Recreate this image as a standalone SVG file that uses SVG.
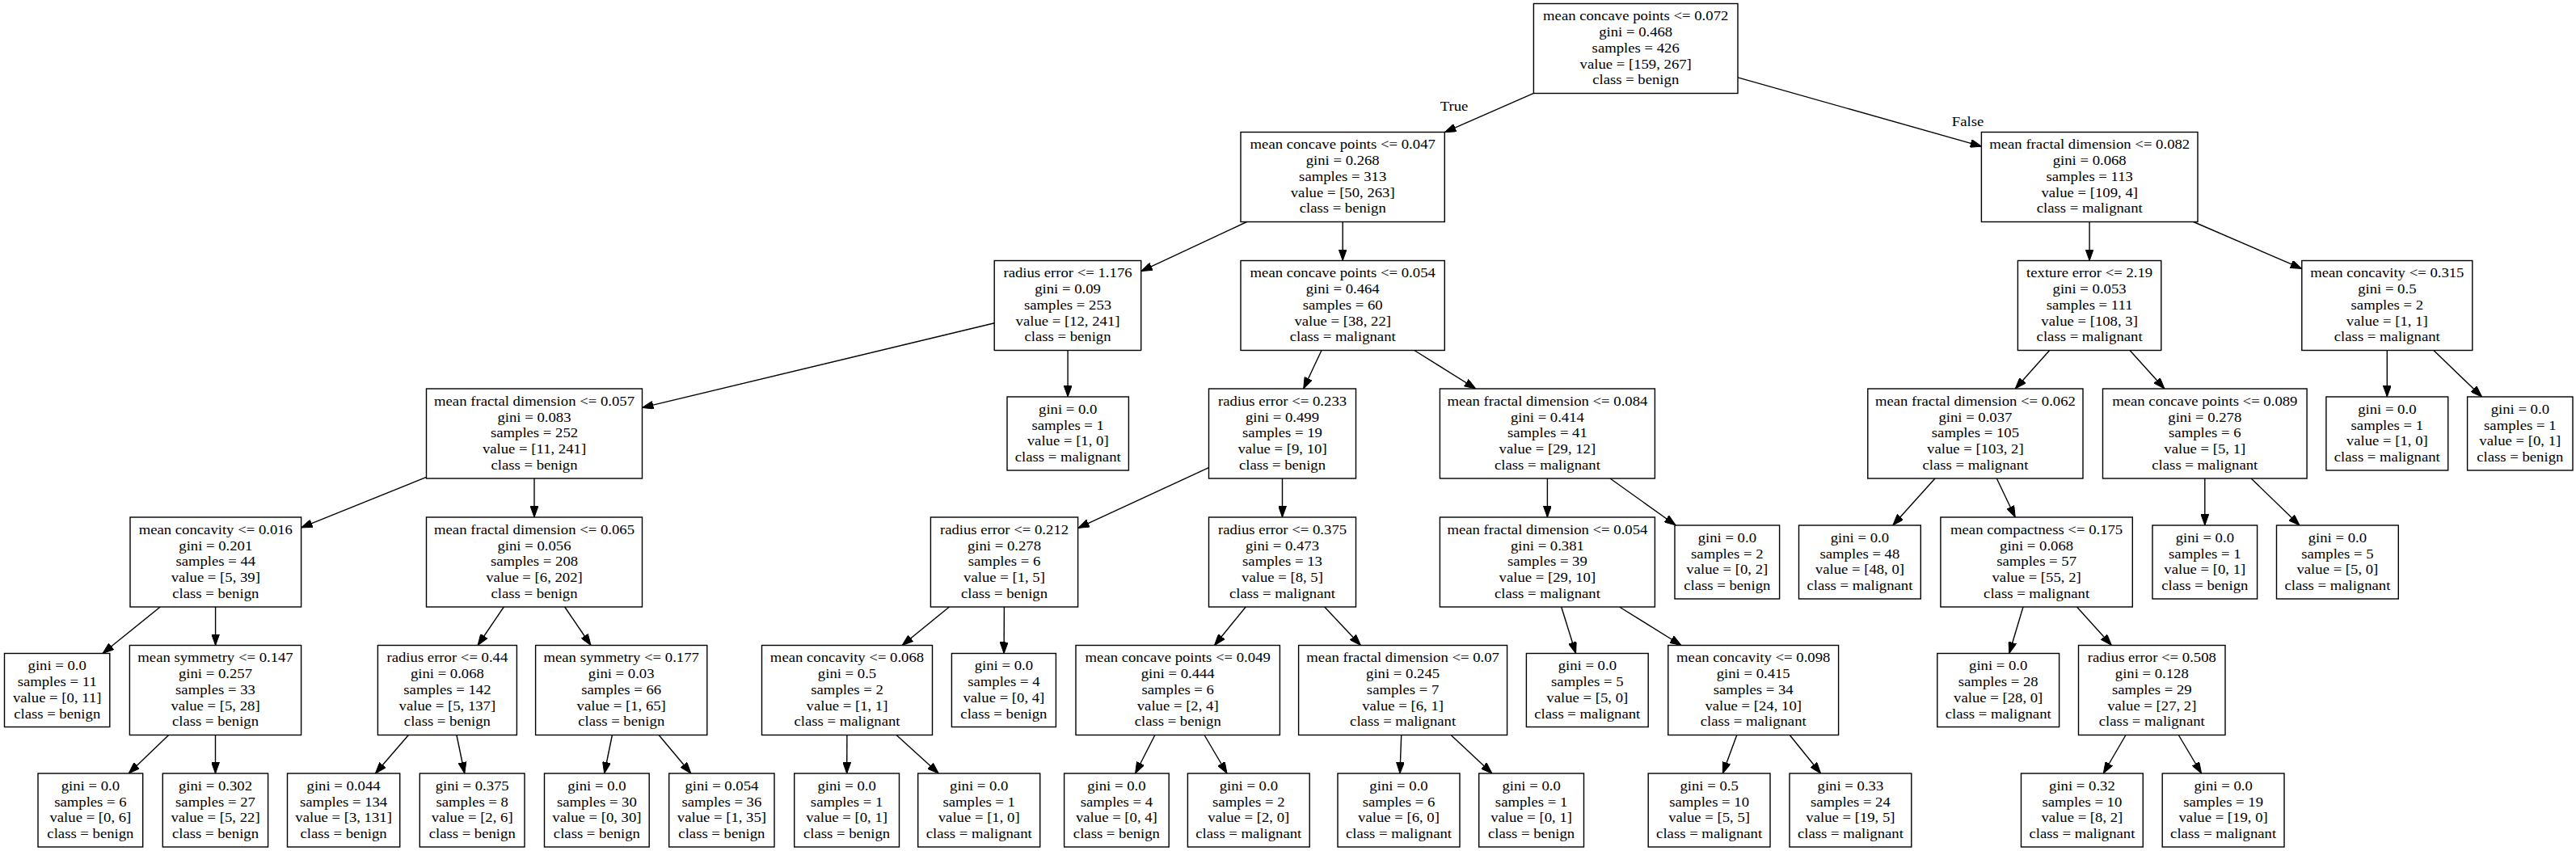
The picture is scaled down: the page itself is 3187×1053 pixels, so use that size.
<svg xmlns="http://www.w3.org/2000/svg" width="3187" height="1053" viewBox="0 0 3187 1053">
<defs>
<style>
.n rect{fill:#fff;stroke:#000;stroke-width:1.4}
.n text,.lbl{font-family:"Liberation Serif","Times New Roman",serif;font-size:16.6px;fill:#000;text-anchor:middle}
.e line{stroke:#000;stroke-width:1.4;marker-end:url(#ah)}
</style>
<marker id="ah" viewBox="0 0 14 10" refX="14" refY="5" markerWidth="14" markerHeight="10" markerUnits="userSpaceOnUse" orient="auto"><path d="M0,0 L14,5 L0,10 z" fill="#000" stroke="#000" stroke-width="1"/></marker>
</defs>
<rect width="3187" height="1053" fill="#fff"/>
<g id="edges" class="e">
<line x1="1897.5" y1="115.4" x2="1787.4" y2="163.7"/>
<line x1="2150" y1="95.8" x2="2451.6" y2="181.2"/>
<line x1="1542.5" y1="274.5" x2="1411.8" y2="335.6"/>
<line x1="1661.2" y1="274.5" x2="1661.2" y2="322.5"/>
<line x1="1230.3" y1="399.8" x2="794.5" y2="504.4"/>
<line x1="1321.1" y1="433.5" x2="1321.1" y2="491"/>
<line x1="527.5" y1="590.4" x2="372.6" y2="652.9"/>
<line x1="661" y1="592" x2="661" y2="640"/>
<line x1="198.2" y1="751" x2="127" y2="808.5"/>
<line x1="266.6" y1="751" x2="266.6" y2="798.5"/>
<line x1="208.7" y1="909.5" x2="159.2" y2="957"/>
<line x1="266.5" y1="909.5" x2="266.5" y2="957"/>
<line x1="623.3" y1="751" x2="591.1" y2="798.5"/>
<line x1="698.7" y1="751" x2="731" y2="798.5"/>
<line x1="505.4" y1="909.5" x2="464.4" y2="957"/>
<line x1="564.9" y1="909.5" x2="574.8" y2="957"/>
<line x1="757.4" y1="909.5" x2="747.7" y2="957"/>
<line x1="815.1" y1="909.5" x2="854.9" y2="957"/>
<line x1="1635" y1="433.5" x2="1612.7" y2="481"/>
<line x1="1749.8" y1="433.5" x2="1825.8" y2="481"/>
<line x1="1495.5" y1="578.6" x2="1333.7" y2="653.4"/>
<line x1="1586.5" y1="592" x2="1586.5" y2="640"/>
<line x1="1914.4" y1="592" x2="1914.4" y2="640"/>
<line x1="1992" y1="592" x2="2073.2" y2="650"/>
<line x1="1174.4" y1="751" x2="1116.1" y2="798.5"/>
<line x1="1242.4" y1="751" x2="1242.1" y2="808.5"/>
<line x1="1541.2" y1="751" x2="1502.5" y2="798.5"/>
<line x1="1638.7" y1="751" x2="1683.4" y2="798.5"/>
<line x1="1931.7" y1="751" x2="1949.6" y2="808.5"/>
<line x1="2003.6" y1="751" x2="2080" y2="798.5"/>
<line x1="1047.9" y1="909.5" x2="1047.7" y2="957"/>
<line x1="1109" y1="909.5" x2="1161.3" y2="957"/>
<line x1="1428.9" y1="909.5" x2="1404.6" y2="957"/>
<line x1="1490" y1="909.5" x2="1518" y2="957"/>
<line x1="1733.7" y1="909.5" x2="1732" y2="957"/>
<line x1="1795.1" y1="909.5" x2="1845.9" y2="957"/>
<line x1="2148.8" y1="909.5" x2="2131.3" y2="957"/>
<line x1="2214.2" y1="909.5" x2="2252.6" y2="957"/>
<line x1="2585.1" y1="274.5" x2="2585.1" y2="322.5"/>
<line x1="2713.7" y1="274.5" x2="2847.7" y2="332.4"/>
<line x1="2535.7" y1="433.5" x2="2493.3" y2="481"/>
<line x1="2635" y1="433.5" x2="2677.9" y2="481"/>
<line x1="2953.3" y1="433.5" x2="2953.3" y2="491"/>
<line x1="3010.9" y1="433.5" x2="3070.6" y2="491"/>
<line x1="2394" y1="592" x2="2341.8" y2="650"/>
<line x1="2470.3" y1="592" x2="2493.2" y2="640"/>
<line x1="2727.8" y1="592" x2="2727.8" y2="650"/>
<line x1="2785.1" y1="592" x2="2845" y2="650"/>
<line x1="2503" y1="751" x2="2485.8" y2="808.5"/>
<line x1="2569.5" y1="751" x2="2612.4" y2="798.5"/>
<line x1="2630" y1="909.5" x2="2602.3" y2="957"/>
<line x1="2695.3" y1="909.5" x2="2723.6" y2="957"/>
<text class="lbl" transform="translate(1799 0) scale(1.127 1)" x="0" y="137.5">True</text>
<text class="lbl" transform="translate(2434.6 0) scale(1.127 1)" x="0" y="156.4">False</text>
</g>
<g id="n0" class="n"><rect x="1897.4" y="4.5" width="252.6" height="111"/><text transform="translate(2023.7 0) scale(1.127 1)" y="25.5"><tspan x="0">mean concave points &lt;= 0.072</tspan><tspan x="0" dy="19.75">gini = 0.468</tspan><tspan x="0" dy="19.75">samples = 426</tspan><tspan x="0" dy="19.75">value = [159, 267]</tspan><tspan x="0" dy="19.75">class = benign</tspan></text></g>
<g id="n1" class="n"><rect x="1535" y="163.5" width="252.3" height="111"/><text transform="translate(1661.2 0) scale(1.127 1)" y="184.5"><tspan x="0">mean concave points &lt;= 0.047</tspan><tspan x="0" dy="19.75">gini = 0.268</tspan><tspan x="0" dy="19.75">samples = 313</tspan><tspan x="0" dy="19.75">value = [50, 263]</tspan><tspan x="0" dy="19.75">class = benign</tspan></text></g>
<g id="n2" class="n"><rect x="1230.2" y="322.5" width="181.5" height="111"/><text transform="translate(1321 0) scale(1.127 1)" y="343.5"><tspan x="0">radius error &lt;= 1.176</tspan><tspan x="0" dy="19.75">gini = 0.09</tspan><tspan x="0" dy="19.75">samples = 253</tspan><tspan x="0" dy="19.75">value = [12, 241]</tspan><tspan x="0" dy="19.75">class = benign</tspan></text></g>
<g id="n3" class="n"><rect x="527.5" y="481" width="267" height="111"/><text transform="translate(661 0) scale(1.127 1)" y="502"><tspan x="0">mean fractal dimension &lt;= 0.057</tspan><tspan x="0" dy="19.75">gini = 0.083</tspan><tspan x="0" dy="19.75">samples = 252</tspan><tspan x="0" dy="19.75">value = [11, 241]</tspan><tspan x="0" dy="19.75">class = benign</tspan></text></g>
<g id="n4" class="n"><rect x="161" y="640" width="211.6" height="111"/><text transform="translate(266.8 0) scale(1.127 1)" y="661"><tspan x="0">mean concavity &lt;= 0.016</tspan><tspan x="0" dy="19.75">gini = 0.201</tspan><tspan x="0" dy="19.75">samples = 44</tspan><tspan x="0" dy="19.75">value = [5, 39]</tspan><tspan x="0" dy="19.75">class = benign</tspan></text></g>
<g id="n5" class="n"><rect x="5.5" y="808.5" width="130.3" height="91"/><text transform="translate(70.7 0) scale(1.127 1)" y="829.4"><tspan x="0">gini = 0.0</tspan><tspan x="0" dy="19.75">samples = 11</tspan><tspan x="0" dy="19.75">value = [0, 11]</tspan><tspan x="0" dy="19.75">class = benign</tspan></text></g>
<g id="n6" class="n"><rect x="160.4" y="798.5" width="212.2" height="111"/><text transform="translate(266.5 0) scale(1.127 1)" y="819.5"><tspan x="0">mean symmetry &lt;= 0.147</tspan><tspan x="0" dy="19.75">gini = 0.257</tspan><tspan x="0" dy="19.75">samples = 33</tspan><tspan x="0" dy="19.75">value = [5, 28]</tspan><tspan x="0" dy="19.75">class = benign</tspan></text></g>
<g id="n7" class="n"><rect x="47" y="957" width="129.7" height="91"/><text transform="translate(111.9 0) scale(1.127 1)" y="977.9"><tspan x="0">gini = 0.0</tspan><tspan x="0" dy="19.75">samples = 6</tspan><tspan x="0" dy="19.75">value = [0, 6]</tspan><tspan x="0" dy="19.75">class = benign</tspan></text></g>
<g id="n8" class="n"><rect x="201.3" y="957" width="130.3" height="91"/><text transform="translate(266.5 0) scale(1.127 1)" y="977.9"><tspan x="0">gini = 0.302</tspan><tspan x="0" dy="19.75">samples = 27</tspan><tspan x="0" dy="19.75">value = [5, 22]</tspan><tspan x="0" dy="19.75">class = benign</tspan></text></g>
<g id="n9" class="n"><rect x="527.5" y="640" width="267" height="111"/><text transform="translate(661 0) scale(1.127 1)" y="661"><tspan x="0">mean fractal dimension &lt;= 0.065</tspan><tspan x="0" dy="19.75">gini = 0.056</tspan><tspan x="0" dy="19.75">samples = 208</tspan><tspan x="0" dy="19.75">value = [6, 202]</tspan><tspan x="0" dy="19.75">class = benign</tspan></text></g>
<g id="n10" class="n"><rect x="467.4" y="798.5" width="172" height="111"/><text transform="translate(553.4 0) scale(1.127 1)" y="819.5"><tspan x="0">radius error &lt;= 0.44</tspan><tspan x="0" dy="19.75">gini = 0.068</tspan><tspan x="0" dy="19.75">samples = 142</tspan><tspan x="0" dy="19.75">value = [5, 137]</tspan><tspan x="0" dy="19.75">class = benign</tspan></text></g>
<g id="n11" class="n"><rect x="355.5" y="957" width="139.2" height="91"/><text transform="translate(425.1 0) scale(1.127 1)" y="977.9"><tspan x="0">gini = 0.044</tspan><tspan x="0" dy="19.75">samples = 134</tspan><tspan x="0" dy="19.75">value = [3, 131]</tspan><tspan x="0" dy="19.75">class = benign</tspan></text></g>
<g id="n12" class="n"><rect x="519.3" y="957" width="129.7" height="91"/><text transform="translate(584.2 0) scale(1.127 1)" y="977.9"><tspan x="0">gini = 0.375</tspan><tspan x="0" dy="19.75">samples = 8</tspan><tspan x="0" dy="19.75">value = [2, 6]</tspan><tspan x="0" dy="19.75">class = benign</tspan></text></g>
<g id="n13" class="n"><rect x="662.6" y="798.5" width="212.2" height="111"/><text transform="translate(768.7 0) scale(1.127 1)" y="819.5"><tspan x="0">mean symmetry &lt;= 0.177</tspan><tspan x="0" dy="19.75">gini = 0.03</tspan><tspan x="0" dy="19.75">samples = 66</tspan><tspan x="0" dy="19.75">value = [1, 65]</tspan><tspan x="0" dy="19.75">class = benign</tspan></text></g>
<g id="n14" class="n"><rect x="673.5" y="957" width="129.7" height="91"/><text transform="translate(738.4 0) scale(1.127 1)" y="977.9"><tspan x="0">gini = 0.0</tspan><tspan x="0" dy="19.75">samples = 30</tspan><tspan x="0" dy="19.75">value = [0, 30]</tspan><tspan x="0" dy="19.75">class = benign</tspan></text></g>
<g id="n15" class="n"><rect x="827.7" y="957" width="130.3" height="91"/><text transform="translate(892.9 0) scale(1.127 1)" y="977.9"><tspan x="0">gini = 0.054</tspan><tspan x="0" dy="19.75">samples = 36</tspan><tspan x="0" dy="19.75">value = [1, 35]</tspan><tspan x="0" dy="19.75">class = benign</tspan></text></g>
<g id="n16" class="n"><rect x="1246" y="491" width="150.4" height="91"/><text transform="translate(1321.2 0) scale(1.127 1)" y="511.9"><tspan x="0">gini = 0.0</tspan><tspan x="0" dy="19.75">samples = 1</tspan><tspan x="0" dy="19.75">value = [1, 0]</tspan><tspan x="0" dy="19.75">class = malignant</tspan></text></g>
<g id="n17" class="n"><rect x="1535" y="322.5" width="252.3" height="111"/><text transform="translate(1661.2 0) scale(1.127 1)" y="343.5"><tspan x="0">mean concave points &lt;= 0.054</tspan><tspan x="0" dy="19.75">gini = 0.464</tspan><tspan x="0" dy="19.75">samples = 60</tspan><tspan x="0" dy="19.75">value = [38, 22]</tspan><tspan x="0" dy="19.75">class = malignant</tspan></text></g>
<g id="n18" class="n"><rect x="1495.5" y="481" width="182" height="111"/><text transform="translate(1586.5 0) scale(1.127 1)" y="502"><tspan x="0">radius error &lt;= 0.233</tspan><tspan x="0" dy="19.75">gini = 0.499</tspan><tspan x="0" dy="19.75">samples = 19</tspan><tspan x="0" dy="19.75">value = [9, 10]</tspan><tspan x="0" dy="19.75">class = benign</tspan></text></g>
<g id="n19" class="n"><rect x="1151.4" y="640" width="182.2" height="111"/><text transform="translate(1242.5 0) scale(1.127 1)" y="661"><tspan x="0">radius error &lt;= 0.212</tspan><tspan x="0" dy="19.75">gini = 0.278</tspan><tspan x="0" dy="19.75">samples = 6</tspan><tspan x="0" dy="19.75">value = [1, 5]</tspan><tspan x="0" dy="19.75">class = benign</tspan></text></g>
<g id="n20" class="n"><rect x="942.5" y="798.5" width="211" height="111"/><text transform="translate(1048 0) scale(1.127 1)" y="819.5"><tspan x="0">mean concavity &lt;= 0.068</tspan><tspan x="0" dy="19.75">gini = 0.5</tspan><tspan x="0" dy="19.75">samples = 2</tspan><tspan x="0" dy="19.75">value = [1, 1]</tspan><tspan x="0" dy="19.75">class = malignant</tspan></text></g>
<g id="n21" class="n"><rect x="982.7" y="957" width="129.8" height="91"/><text transform="translate(1047.6 0) scale(1.127 1)" y="977.9"><tspan x="0">gini = 0.0</tspan><tspan x="0" dy="19.75">samples = 1</tspan><tspan x="0" dy="19.75">value = [0, 1]</tspan><tspan x="0" dy="19.75">class = benign</tspan></text></g>
<g id="n22" class="n"><rect x="1135.7" y="957" width="151" height="91"/><text transform="translate(1211.2 0) scale(1.127 1)" y="977.9"><tspan x="0">gini = 0.0</tspan><tspan x="0" dy="19.75">samples = 1</tspan><tspan x="0" dy="19.75">value = [1, 0]</tspan><tspan x="0" dy="19.75">class = malignant</tspan></text></g>
<g id="n23" class="n"><rect x="1177.4" y="808.5" width="129" height="91"/><text transform="translate(1241.9 0) scale(1.127 1)" y="829.4"><tspan x="0">gini = 0.0</tspan><tspan x="0" dy="19.75">samples = 4</tspan><tspan x="0" dy="19.75">value = [0, 4]</tspan><tspan x="0" dy="19.75">class = benign</tspan></text></g>
<g id="n24" class="n"><rect x="1495.5" y="640" width="182" height="111"/><text transform="translate(1586.5 0) scale(1.127 1)" y="661"><tspan x="0">radius error &lt;= 0.375</tspan><tspan x="0" dy="19.75">gini = 0.473</tspan><tspan x="0" dy="19.75">samples = 13</tspan><tspan x="0" dy="19.75">value = [8, 5]</tspan><tspan x="0" dy="19.75">class = malignant</tspan></text></g>
<g id="n25" class="n"><rect x="1331" y="798.5" width="252.4" height="111"/><text transform="translate(1457.2 0) scale(1.127 1)" y="819.5"><tspan x="0">mean concave points &lt;= 0.049</tspan><tspan x="0" dy="19.75">gini = 0.444</tspan><tspan x="0" dy="19.75">samples = 6</tspan><tspan x="0" dy="19.75">value = [2, 4]</tspan><tspan x="0" dy="19.75">class = benign</tspan></text></g>
<g id="n26" class="n"><rect x="1316.6" y="957" width="129.6" height="91"/><text transform="translate(1381.4 0) scale(1.127 1)" y="977.9"><tspan x="0">gini = 0.0</tspan><tspan x="0" dy="19.75">samples = 4</tspan><tspan x="0" dy="19.75">value = [0, 4]</tspan><tspan x="0" dy="19.75">class = benign</tspan></text></g>
<g id="n27" class="n"><rect x="1469.4" y="957" width="150.8" height="91"/><text transform="translate(1544.8 0) scale(1.127 1)" y="977.9"><tspan x="0">gini = 0.0</tspan><tspan x="0" dy="19.75">samples = 2</tspan><tspan x="0" dy="19.75">value = [2, 0]</tspan><tspan x="0" dy="19.75">class = malignant</tspan></text></g>
<g id="n28" class="n"><rect x="1606.6" y="798.5" width="258" height="111"/><text transform="translate(1735.6 0) scale(1.127 1)" y="819.5"><tspan x="0">mean fractal dimension &lt;= 0.07</tspan><tspan x="0" dy="19.75">gini = 0.245</tspan><tspan x="0" dy="19.75">samples = 7</tspan><tspan x="0" dy="19.75">value = [6, 1]</tspan><tspan x="0" dy="19.75">class = malignant</tspan></text></g>
<g id="n29" class="n"><rect x="1655" y="957" width="151" height="91"/><text transform="translate(1730.5 0) scale(1.127 1)" y="977.9"><tspan x="0">gini = 0.0</tspan><tspan x="0" dy="19.75">samples = 6</tspan><tspan x="0" dy="19.75">value = [6, 0]</tspan><tspan x="0" dy="19.75">class = malignant</tspan></text></g>
<g id="n30" class="n"><rect x="1829.7" y="957" width="129.8" height="91"/><text transform="translate(1894.6 0) scale(1.127 1)" y="977.9"><tspan x="0">gini = 0.0</tspan><tspan x="0" dy="19.75">samples = 1</tspan><tspan x="0" dy="19.75">value = [0, 1]</tspan><tspan x="0" dy="19.75">class = benign</tspan></text></g>
<g id="n31" class="n"><rect x="1781.4" y="481" width="266" height="111"/><text transform="translate(1914.4 0) scale(1.127 1)" y="502"><tspan x="0">mean fractal dimension &lt;= 0.084</tspan><tspan x="0" dy="19.75">gini = 0.414</tspan><tspan x="0" dy="19.75">samples = 41</tspan><tspan x="0" dy="19.75">value = [29, 12]</tspan><tspan x="0" dy="19.75">class = malignant</tspan></text></g>
<g id="n32" class="n"><rect x="1781.4" y="640" width="266" height="111"/><text transform="translate(1914.4 0) scale(1.127 1)" y="661"><tspan x="0">mean fractal dimension &lt;= 0.054</tspan><tspan x="0" dy="19.75">gini = 0.381</tspan><tspan x="0" dy="19.75">samples = 39</tspan><tspan x="0" dy="19.75">value = [29, 10]</tspan><tspan x="0" dy="19.75">class = malignant</tspan></text></g>
<g id="n33" class="n"><rect x="1888.4" y="808.5" width="150.8" height="91"/><text transform="translate(1963.8 0) scale(1.127 1)" y="829.4"><tspan x="0">gini = 0.0</tspan><tspan x="0" dy="19.75">samples = 5</tspan><tspan x="0" dy="19.75">value = [5, 0]</tspan><tspan x="0" dy="19.75">class = malignant</tspan></text></g>
<g id="n34" class="n"><rect x="2063.8" y="798.5" width="210.8" height="111"/><text transform="translate(2169.2 0) scale(1.127 1)" y="819.5"><tspan x="0">mean concavity &lt;= 0.098</tspan><tspan x="0" dy="19.75">gini = 0.415</tspan><tspan x="0" dy="19.75">samples = 34</tspan><tspan x="0" dy="19.75">value = [24, 10]</tspan><tspan x="0" dy="19.75">class = malignant</tspan></text></g>
<g id="n35" class="n"><rect x="2039.2" y="957" width="150.8" height="91"/><text transform="translate(2114.6 0) scale(1.127 1)" y="977.9"><tspan x="0">gini = 0.5</tspan><tspan x="0" dy="19.75">samples = 10</tspan><tspan x="0" dy="19.75">value = [5, 5]</tspan><tspan x="0" dy="19.75">class = malignant</tspan></text></g>
<g id="n36" class="n"><rect x="2214" y="957" width="150.8" height="91"/><text transform="translate(2289.4 0) scale(1.127 1)" y="977.9"><tspan x="0">gini = 0.33</tspan><tspan x="0" dy="19.75">samples = 24</tspan><tspan x="0" dy="19.75">value = [19, 5]</tspan><tspan x="0" dy="19.75">class = malignant</tspan></text></g>
<g id="n37" class="n"><rect x="2072" y="650" width="129.6" height="91"/><text transform="translate(2136.8 0) scale(1.127 1)" y="670.9"><tspan x="0">gini = 0.0</tspan><tspan x="0" dy="19.75">samples = 2</tspan><tspan x="0" dy="19.75">value = [0, 2]</tspan><tspan x="0" dy="19.75">class = benign</tspan></text></g>
<g id="n38" class="n"><rect x="2451.4" y="163.5" width="267.6" height="111"/><text transform="translate(2585.2 0) scale(1.127 1)" y="184.5"><tspan x="0">mean fractal dimension &lt;= 0.082</tspan><tspan x="0" dy="19.75">gini = 0.068</tspan><tspan x="0" dy="19.75">samples = 113</tspan><tspan x="0" dy="19.75">value = [109, 4]</tspan><tspan x="0" dy="19.75">class = malignant</tspan></text></g>
<g id="n39" class="n"><rect x="2496.4" y="322.5" width="177.4" height="111"/><text transform="translate(2585.1 0) scale(1.127 1)" y="343.5"><tspan x="0">texture error &lt;= 2.19</tspan><tspan x="0" dy="19.75">gini = 0.053</tspan><tspan x="0" dy="19.75">samples = 111</tspan><tspan x="0" dy="19.75">value = [108, 3]</tspan><tspan x="0" dy="19.75">class = malignant</tspan></text></g>
<g id="n40" class="n"><rect x="2310.8" y="481" width="266.2" height="111"/><text transform="translate(2443.9 0) scale(1.127 1)" y="502"><tspan x="0">mean fractal dimension &lt;= 0.062</tspan><tspan x="0" dy="19.75">gini = 0.037</tspan><tspan x="0" dy="19.75">samples = 105</tspan><tspan x="0" dy="19.75">value = [103, 2]</tspan><tspan x="0" dy="19.75">class = malignant</tspan></text></g>
<g id="n41" class="n"><rect x="2225.5" y="650" width="150.8" height="91"/><text transform="translate(2300.9 0) scale(1.127 1)" y="670.9"><tspan x="0">gini = 0.0</tspan><tspan x="0" dy="19.75">samples = 48</tspan><tspan x="0" dy="19.75">value = [48, 0]</tspan><tspan x="0" dy="19.75">class = malignant</tspan></text></g>
<g id="n42" class="n"><rect x="2400.9" y="640" width="237.4" height="111"/><text transform="translate(2519.6 0) scale(1.127 1)" y="661"><tspan x="0">mean compactness &lt;= 0.175</tspan><tspan x="0" dy="19.75">gini = 0.068</tspan><tspan x="0" dy="19.75">samples = 57</tspan><tspan x="0" dy="19.75">value = [55, 2]</tspan><tspan x="0" dy="19.75">class = malignant</tspan></text></g>
<g id="n43" class="n"><rect x="2396.8" y="808.5" width="150.8" height="91"/><text transform="translate(2472.2 0) scale(1.127 1)" y="829.4"><tspan x="0">gini = 0.0</tspan><tspan x="0" dy="19.75">samples = 28</tspan><tspan x="0" dy="19.75">value = [28, 0]</tspan><tspan x="0" dy="19.75">class = malignant</tspan></text></g>
<g id="n44" class="n"><rect x="2571.5" y="798.5" width="181.5" height="111"/><text transform="translate(2662.3 0) scale(1.127 1)" y="819.5"><tspan x="0">radius error &lt;= 0.508</tspan><tspan x="0" dy="19.75">gini = 0.128</tspan><tspan x="0" dy="19.75">samples = 29</tspan><tspan x="0" dy="19.75">value = [27, 2]</tspan><tspan x="0" dy="19.75">class = malignant</tspan></text></g>
<g id="n45" class="n"><rect x="2500.5" y="957" width="150.8" height="91"/><text transform="translate(2575.9 0) scale(1.127 1)" y="977.9"><tspan x="0">gini = 0.32</tspan><tspan x="0" dy="19.75">samples = 10</tspan><tspan x="0" dy="19.75">value = [8, 2]</tspan><tspan x="0" dy="19.75">class = malignant</tspan></text></g>
<g id="n46" class="n"><rect x="2675.2" y="957" width="150.8" height="91"/><text transform="translate(2750.6 0) scale(1.127 1)" y="977.9"><tspan x="0">gini = 0.0</tspan><tspan x="0" dy="19.75">samples = 19</tspan><tspan x="0" dy="19.75">value = [19, 0]</tspan><tspan x="0" dy="19.75">class = malignant</tspan></text></g>
<g id="n47" class="n"><rect x="2601.5" y="481" width="252.6" height="111"/><text transform="translate(2727.8 0) scale(1.127 1)" y="502"><tspan x="0">mean concave points &lt;= 0.089</tspan><tspan x="0" dy="19.75">gini = 0.278</tspan><tspan x="0" dy="19.75">samples = 6</tspan><tspan x="0" dy="19.75">value = [5, 1]</tspan><tspan x="0" dy="19.75">class = malignant</tspan></text></g>
<g id="n48" class="n"><rect x="2663" y="650" width="129.6" height="91"/><text transform="translate(2727.8 0) scale(1.127 1)" y="670.9"><tspan x="0">gini = 0.0</tspan><tspan x="0" dy="19.75">samples = 1</tspan><tspan x="0" dy="19.75">value = [0, 1]</tspan><tspan x="0" dy="19.75">class = benign</tspan></text></g>
<g id="n49" class="n"><rect x="2816.5" y="650" width="150.8" height="91"/><text transform="translate(2891.9 0) scale(1.127 1)" y="670.9"><tspan x="0">gini = 0.0</tspan><tspan x="0" dy="19.75">samples = 5</tspan><tspan x="0" dy="19.75">value = [5, 0]</tspan><tspan x="0" dy="19.75">class = malignant</tspan></text></g>
<g id="n50" class="n"><rect x="2847.8" y="322.5" width="211" height="111"/><text transform="translate(2953.3 0) scale(1.127 1)" y="343.5"><tspan x="0">mean concavity &lt;= 0.315</tspan><tspan x="0" dy="19.75">gini = 0.5</tspan><tspan x="0" dy="19.75">samples = 2</tspan><tspan x="0" dy="19.75">value = [1, 1]</tspan><tspan x="0" dy="19.75">class = malignant</tspan></text></g>
<g id="n51" class="n"><rect x="2877.9" y="491" width="150.8" height="91"/><text transform="translate(2953.3 0) scale(1.127 1)" y="511.9"><tspan x="0">gini = 0.0</tspan><tspan x="0" dy="19.75">samples = 1</tspan><tspan x="0" dy="19.75">value = [1, 0]</tspan><tspan x="0" dy="19.75">class = malignant</tspan></text></g>
<g id="n52" class="n"><rect x="3052.6" y="491" width="130.4" height="91"/><text transform="translate(3117.8 0) scale(1.127 1)" y="511.9"><tspan x="0">gini = 0.0</tspan><tspan x="0" dy="19.75">samples = 1</tspan><tspan x="0" dy="19.75">value = [0, 1]</tspan><tspan x="0" dy="19.75">class = benign</tspan></text></g>
</svg>
